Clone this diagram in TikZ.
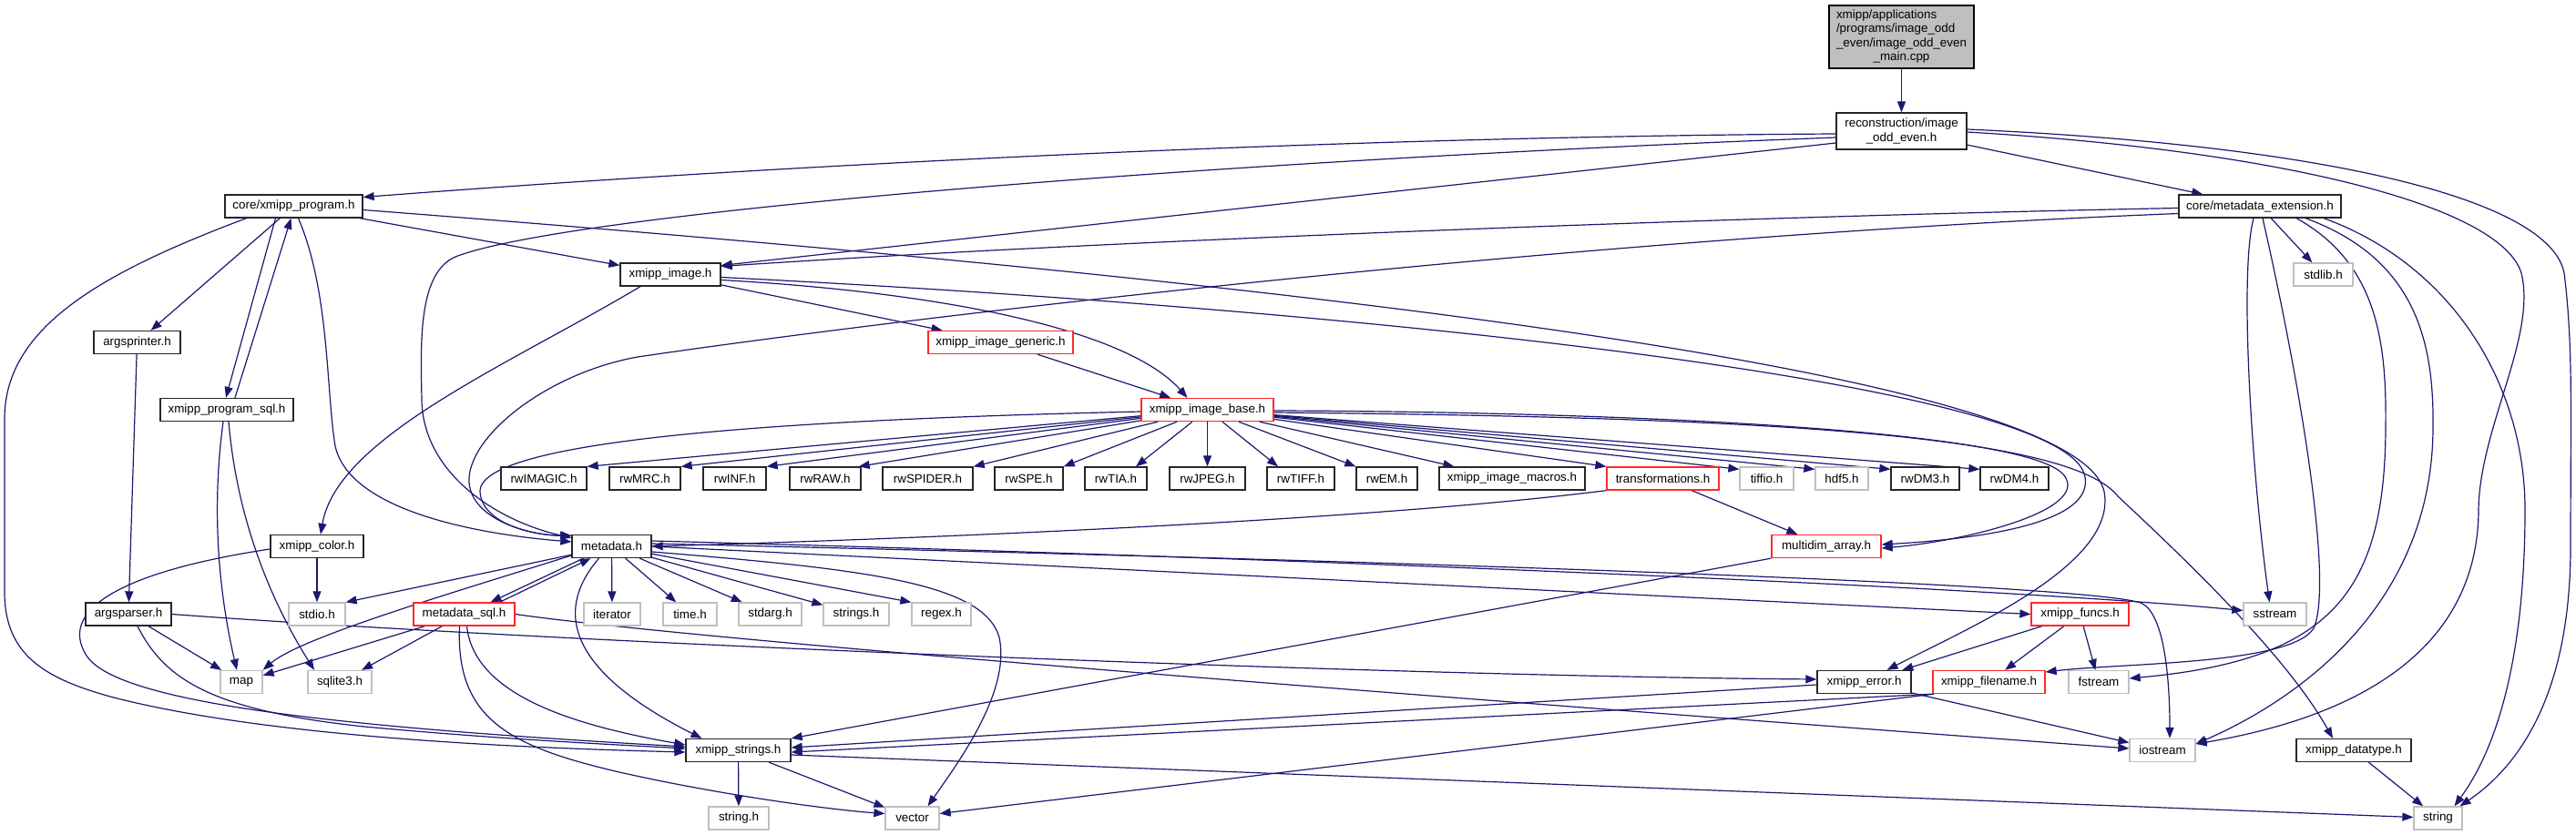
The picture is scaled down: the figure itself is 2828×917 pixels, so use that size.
\documentclass[tikz,border=0pt]{standalone}
\usepackage{fontspec}
\setmainfont{Liberation Sans}
\usetikzlibrary{arrows.meta}
\pgfdeclarelayer{bg}
\pgfsetlayers{bg,main}
\definecolor{mblue}{RGB}{25,25,112}
\definecolor{gborder}{RGB}{191,191,191}
\definecolor{rborder}{RGB}{255,40,40}
\newcommand\fsz{\fontsize{13.4}{15.5}\selectfont}
\tikzset{
 nd/.style={rectangle, inner sep=0pt, minimum height=25pt, font=\fsz, fill=white, line width=1.3pt},
 nb/.style={nd, draw=black!85},
 nr/.style={nd, draw=rborder},
 ng/.style={nd, draw=gborder},
 mainnode/.style={nd, draw=black, fill=gborder},
 e/.style={draw=mblue, line width=1.2pt, -{Triangle[length=12pt,width=9pt]}},
}
\begin{document}
\begin{tikzpicture}[x=1pt,y=-1pt]
\useasboundingbox (0,0) rectangle (2828,917);
% nodes
\node[mainnode, minimum width=159pt, minimum height=69pt] (main) at (2087.5,40.5)
 {\begin{tabular}{@{}l@{}}xmipp/applications\\/programs/image\_odd\\\_even/image\_odd\_even\\\multicolumn{1}{@{}c@{}}{\_main.cpp}\end{tabular}};
\node[nb, minimum width=143pt, minimum height=40pt, align=center] (recon) at (2087.5,144) {reconstruction/image\\\_odd\_even.h};
\node[nb, minimum width=151pt] (cxp) at (322.5,226.5) {core/xmipp\_program.h};
\node[nb, minimum width=178pt] (mde) at (2481,226.5) {core/metadata\_extension.h};
\node[nb, minimum width=110pt] (ximg) at (736,301.5) {xmipp\_image.h};
\node[ng, minimum width=65pt] (stdlib) at (2550.5,301.5) {stdlib.h};
\node[nb, minimum width=95pt] (argsprinter) at (150.5,376) {argsprinter.h};
\node[nr, minimum width=159pt] (generic) at (1098.5,376) {xmipp\_image\_generic.h};
\node[nb, minimum width=146pt] (psql) at (249,450) {xmipp\_program\_sql.h};
\node[nr, minimum width=145pt] (base) at (1325.5,450) {xmipp\_image\_base.h};
\node[nb, minimum width=94pt] (rwIMAGIC) at (597,525.5) {rwIMAGIC.h};
\node[nb, minimum width=78pt] (rwMRC) at (708,525.5) {rwMRC.h};
\node[nb, minimum width=69pt] (rwINF) at (806.5,525.5) {rwINF.h};
\node[nb, minimum width=78pt] (rwRAW) at (906,525.5) {rwRAW.h};
\node[nb, minimum width=99pt] (rwSPIDER) at (1018.5,525.5) {rwSPIDER.h};
\node[nb, minimum width=75pt] (rwSPE) at (1129.5,525.5) {rwSPE.h};
\node[nb, minimum width=68pt] (rwTIA) at (1225,525.5) {rwTIA.h};
\node[nb, minimum width=83pt] (rwJPEG) at (1325.5,525.5) {rwJPEG.h};
\node[nb, minimum width=74pt] (rwTIFF) at (1428,525.5) {rwTIFF.h};
\node[nb, minimum width=67pt] (rwEM) at (1522.5,525.5) {rwEM.h};
\node[nb, minimum width=160pt] (macros) at (1660,525.5) {xmipp\_image\_macros.h};
\node[nr, minimum width=123pt] (trans) at (1825.5,525.5) {transformations.h};
\node[ng, minimum width=59pt] (tiffio) at (1939.5,525.5) {tiffio.h};
\node[ng, minimum width=58pt] (hdf5) at (2022,525.5) {hdf5.h};
\node[nb, minimum width=75pt] (rwDM3) at (2113.5,525.5) {rwDM3.h};
\node[nb, minimum width=75pt] (rwDM4) at (2211.5,525.5) {rwDM4.h};
\node[nb, minimum width=102pt] (color) at (348,600) {xmipp\_color.h};
\node[nb, minimum width=87pt] (metadata) at (671.5,600) {metadata.h};
\node[nr, minimum width=120pt] (multidim) at (2005,600) {multidim\_array.h};
\node[nb, minimum width=94pt] (argsparser) at (141,674.5) {argsparser.h};
\node[ng, minimum width=62pt] (stdio) at (348,674.5) {stdio.h};
\node[nr, minimum width=111pt] (msql) at (509.5,674.5) {metadata\_sql.h};
\node[ng, minimum width=62pt] (iterator) at (672,674.5) {iterator};
\node[ng, minimum width=59pt] (time) at (757.5,674.5) {time.h};
\node[ng, minimum width=69pt] (stdarg) at (845.5,674.5) {stdarg.h};
\node[ng, minimum width=72pt] (strings) at (940,674.5) {strings.h};
\node[ng, minimum width=65pt] (regex) at (1033.5,674.5) {regex.h};
\node[nr, minimum width=107pt] (funcs) at (2283.5,674.5) {xmipp\_funcs.h};
\node[ng, minimum width=69pt] (sstream) at (2497.5,674.5) {sstream};
\node[ng, minimum width=46pt] (map) at (265,749) {map};
\node[ng, minimum width=70pt] (sqlite) at (373,749) {sqlite3.h};
\node[nb, minimum width=103pt] (error) at (2046.5,749) {xmipp\_error.h};
\node[nr, minimum width=123pt] (filename) at (2183.5,749) {xmipp\_filename.h};
\node[ng, minimum width=66pt] (fstream) at (2304,749) {fstream};
\node[nb, minimum width=115pt] (strs) at (810.5,824) {xmipp\_strings.h};
\node[ng, minimum width=72pt] (iostream) at (2374,824) {iostream};
\node[nb, minimum width=126pt] (datatype) at (2584,824) {xmipp\_datatype.h};
\node[ng, minimum width=66pt] (stringh) at (811,898.5) {string.h};
\node[ng, minimum width=59pt] (vector) at (1001.5,898.5) {vector};
\node[ng, minimum width=53pt] (string) at (2676.5,898.5) {string};
% edges
\begin{pgfonlayer}{bg}
\draw[e] (main) -- (recon);
\draw[e] ([yshift=-3]recon.west) .. controls (1500,150) and (900,178) .. ([yshift=10]cxp.east);
\draw[e] ([yshift=-7]recon.west) .. controls (1300,178) and (620,235) .. (500,282) .. controls (458,300) and (462,380) .. (463,440) .. controls (465,520) and (545,572) .. (metadata.168);
\draw[e] ([yshift=-13]recon.west) -- ([yshift=10]ximg.east);
\draw[e] (recon) -- (mde);
\draw[e] ([yshift=-1]recon.east) .. controls (2500,165) and (2745,225) .. (2768,300) .. controls (2785,370) and (2722,470) .. (2721,560) .. controls (2720,740) and (2540,795) .. ([yshift=7]iostream.east);
\draw[e] ([yshift=2]recon.east) .. controls (2560,160) and (2800,220) .. (2815,300) .. controls (2825,380) and (2822,450) .. (2822,600) .. controls (2822,770) and (2760,845) .. ([xshift=24]string.north);
% metadata_extension
\draw[e] ([yshift=-2]mde.west) .. controls (1900,238) and (1200,265) .. ([yshift=9]ximg.east);
\draw[e] ([yshift=-8]mde.west) .. controls (1700,262) and (950,355) .. (700,392) .. controls (600,410) and (512,480) .. (515,530) .. controls (518,570) and (580,588) .. (metadata.165);
\draw[e] (mde) -- (stdlib);
\draw[e] ([xshift=-7]mde.south) .. controls (2458,300) and (2472,520) .. ([xshift=-6]sstream.north);
\draw[e] ([xshift=3]mde.south) .. controls (2525,420) and (2562,640) .. (2540,690) .. controls (2515,730) and (2330,728) .. ([yshift=11]filename.east);
\draw[e] ([xshift=40]mde.south) .. controls (2612,290) and (2620,380) .. (2619,470) .. controls (2618,650) and (2560,725) .. ([yshift=4]fstream.east);
\draw[e] ([xshift=50]mde.south) .. controls (2655,285) and (2672,380) .. (2671,470) .. controls (2670,660) and (2530,765) .. ([yshift=7]iostream.east);
\draw[e] ([xshift=70]mde.south) .. controls (2690,290) and (2772,420) .. (2772,560) .. controls (2772,770) and (2720,850) .. ([xshift=18]string.north);
% core/xmipp_program
\draw[e] (cxp) -- (ximg);
\draw[e] ([yshift=-4]cxp.east) .. controls (1300,300) and (2280,400) .. (2310,540) .. controls (2325,620) and (2160,690) .. ([xshift=25]error.north);
\draw[e] (cxp) -- (argsprinter);
\draw[e] ([xshift=-20]cxp.south) -- ([xshift=-1]psql.north);
\draw[e] ([xshift=9]psql.north) -- ([xshift=-3]cxp.south);
\draw[e] ([xshift=5]cxp.south) .. controls (362,320) and (358,430) .. (368,490) .. controls (385,565) and (540,588) .. ([yshift=5]metadata.west);
\draw[e] ([xshift=-52]cxp.south) .. controls (110,300) and (5,360) .. (5,460) -- (5,650) .. controls (5,720) and (50,745) .. (121,765) .. controls (300,812) and (600,822) .. ([yshift=-2]strs.west);
% xmipp_image
\draw[e] (ximg) -- (generic);
\draw[e] ([yshift=-6]ximg.east) .. controls (1050,322) and (1240,365) .. ([xshift=-22]base.north);
\draw[e] ([xshift=-33]ximg.south) .. controls (560,400) and (370,480) .. ([xshift=4]color.north);
\draw[e] ([yshift=-3]ximg.east) .. controls (1500,340) and (2255,420) .. (2288,520) .. controls (2305,575) and (2170,592) .. ([yshift=2]multidim.east);
\draw[e] (generic) -- (base);
% xmipp_image_base
\draw[e] (base) -- (rwIMAGIC.north east);
\draw[e] (base) -- (rwMRC.north east);
\draw[e] (base) -- (rwINF.north east);
\draw[e] (base) -- ([xshift=-3]rwRAW.north east);
\draw[e] (base) -- (rwSPIDER.north east);
\draw[e] (base) -- (rwSPE.north east);
\draw[e] (base) -- ([xshift=22]rwTIA.north);
\draw[e] (base) -- (rwJPEG);
\draw[e] (base) -- ([xshift=-25]rwTIFF.north);
\draw[e] (base) -- (rwEM.north west);
\draw[e] (base) -- ([xshift=17]macros.north west);
\draw[e] (base) -- (trans.north west);
\draw[e] (base) -- ([yshift=-3]tiffio.north west);
\draw[e] (base) -- ([yshift=-3]hdf5.north west);
\draw[e] (base) -- ([yshift=-3]rwDM3.north west);
\draw[e] (base) -- ([yshift=-3]rwDM4.north west);
\draw[e] ([yshift=-2]base.west) .. controls (900,460) and (525,480) .. (527,540) .. controls (529,575) and (585,588) .. (metadata.165);
\draw[e] ([yshift=-1]base.east) .. controls (1750,452) and (2225,470) .. (2266,522) .. controls (2295,560) and (2160,594) .. ([yshift=-2]multidim.east);
\draw[e] ([yshift=-3]base.east) .. controls (1900,458) and (2270,474) .. (2325,545) .. controls (2400,615) and (2510,720) .. ([xshift=-23]datatype.north);
% transformations, multidim
\draw[e] (trans) -- (multidim);
\draw[e] (trans.south west) .. controls (1500,572) and (1000,592) .. (metadata.east);
\draw[e] (multidim.south west) -- (strs.north east);
% metadata
\draw[e] (metadata) -- (stdio.north east);
\draw[e] ([yshift=-10]metadata.west) .. controls (500,650) and (330,700) .. (map.north east);
\draw[e] ([xshift=-31]metadata.south) -- ([xshift=29]msql.north);
\draw[e] ([xshift=39]msql.north) -- ([xshift=-23]metadata.south);
\draw[e] ([xshift=-14]metadata.south) .. controls (600,680) and (640,745) .. ([xshift=-40]strs.north);
\draw[e] (metadata) -- (iterator);
\draw[e] (metadata) -- (time);
\draw[e] (metadata) -- (stdarg);
\draw[e] (metadata) -- (strings);
\draw[e] (metadata) -- (regex.north west);
\draw[e] ([yshift=6]metadata.east) .. controls (1400,612) and (2200,645) .. ([yshift=4]sstream.west);
\draw[e] ([yshift=3]metadata.east) .. controls (1500,615) and (2280,640) .. (2350,662) .. controls (2375,672) and (2382,740) .. ([xshift=8]iostream.north);
\draw[e] (metadata.east) -- (funcs.west);
\draw[e] ([yshift=-6]metadata.east) .. controls (950,625) and (1080,640) .. (1097,700) .. controls (1110,760) and (1050,840) .. ([xshift=17]vector.north);
% metadata_sql
\draw[e] (msql) -- (map);
\draw[e] (msql) -- (sqlite);
\draw[e] ([xshift=3]msql.south) .. controls (520,760) and (620,795) .. ([yshift=6]strs.west);
\draw[e] ([xshift=-5]msql.south) .. controls (500,790) and (560,820) .. (680,848) .. controls (800,875) and (920,890) .. ([yshift=5]vector.west);
\draw[e] (msql.east) .. controls (800,708) and (1800,782) .. ([yshift=2]iostream.west);
% args
\draw[e] (argsprinter) -- (argsparser);
\draw[e] (argsparser) -- (map);
\draw[e] ([xshift=10]argsparser.south) .. controls (180,745) and (230,780) .. (400,798) .. controls (550,812) and (680,818) .. ([yshift=2]strs.west);
\draw[e] (argsparser.east) .. controls (600,705) and (1500,742) .. ([yshift=3]error.west);
% program_sql
\draw[e] ([xshift=-4]psql.south) .. controls (232,560) and (240,650) .. ([xshift=-5]map.north);
\draw[e] ([xshift=2]psql.south) .. controls (262,590) and (310,680) .. ([xshift=-28]sqlite.north);
% color
\draw[e] (color) -- (stdio);
\draw[e] ([yshift=-3]color.west) .. controls (150,625) and (60,665) .. (95,720) .. controls (130,775) and (400,800) .. ([yshift=4]strs.west);
% strings
\draw[e] (strs) -- (stringh);
\draw[e] (strs) -- (vector);
\draw[e] ([yshift=-5]strs.east) -- ([yshift=1]string.west);
% error, filename, funcs, datatype
\draw[e] ([yshift=-3]error.west) -- ([yshift=3]strs.east);
\draw[e] (error) -- (iostream);
\draw[e] (filename.south west) -- ([yshift=-2]strs.east);
\draw[e] ([xshift=2]filename.south west) -- ([yshift=5]vector.east);
\draw[e] (funcs) -- (error);
\draw[e] (funcs) -- (filename);
\draw[e] (funcs) -- (fstream);
\draw[e] (datatype) -- (string);
\end{pgfonlayer}
\end{tikzpicture}
\end{document}
